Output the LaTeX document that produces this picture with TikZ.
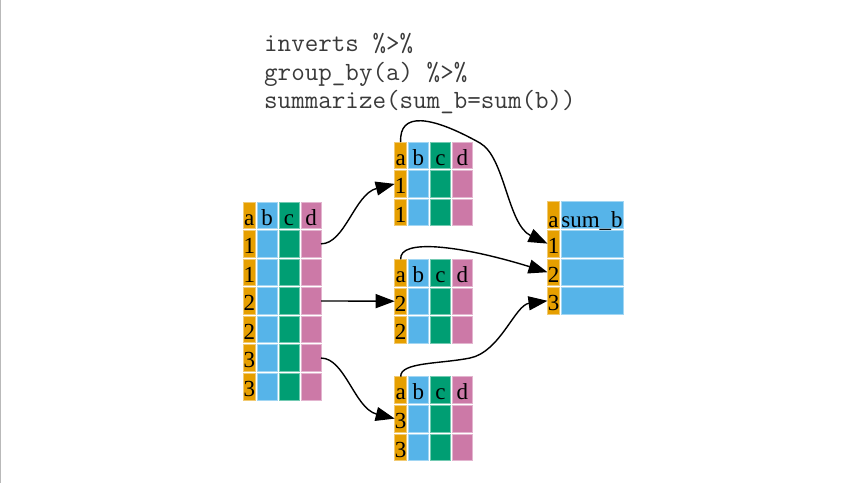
\documentclass[tikz,border=0pt]{standalone}
\usepackage{fontspec}
\setmainfont{Liberation Serif}
\usetikzlibrary{arrows.meta}
\definecolor{cA}{HTML}{E69F00}
\definecolor{cB}{HTML}{56B4E9}
\definecolor{cC}{HTML}{009E73}
\definecolor{cD}{HTML}{CC79A7}
\definecolor{codegray}{HTML}{3A3A3A}
\tikzset{
  cellbox/.style={rectangle, inner sep=0pt, outer sep=0pt, minimum height=26.6pt, line width=0.8pt},
  celltxt/.style={anchor=base, inner sep=0pt, font=\fontsize{23}{25}\selectfont, text=black},
  codetxt/.style={anchor=base west, inner sep=0pt, font=\ttfamily\fontsize{26.3}{29}\selectfont, text=codegray},
  conn/.style={line width=1.4pt, -{Triangle[length=19pt,width=14pt]}}
}
\newcommand\tcell[7][3.5]{%
  \node[cellbox, fill=#6, draw=#6!55!white, minimum width=#5pt] (#2) at ({#3+#5/2},{#4+13.3}) {};
  \node[celltxt] at ([yshift=#1pt]#2.south) {#7};
}
\begin{document}
\begin{tikzpicture}[x=1pt,y=-1pt]
\useasboundingbox (0,0) rectangle (862,483);
\draw[gray!55, line width=1pt] (0.5,0) -- (0.5,483);
% code
\node[codetxt] (code1) at (264,51.7) {inverts \%>\%};
\node[codetxt] (code2) at (264,80) {group\_by(a) \%>\%};
\node[codetxt] (code3) at (264,108.3) {summarize(sum\_b=sum(b))};
% left table
\foreach \r/\va/\vb/\vc/\vd in {0/a/b/c/d,1/1///,2/1///,3/2///,4/2///,5/3///,6/3///}{
  \pgfmathsetmacro\yy{202+\r*28.55}
  \tcell{L\r-a}{243.3}{\yy}{12}{cA}{\va}
  \tcell{L\r-b}{257}{\yy}{20}{cB}{\vb}
  \tcell{L\r-c}{279}{\yy}{20}{cC}{\vc}
  \tcell{L\r-d}{301}{\yy}{20}{cD}{\vd}
}
% group tables
\foreach \p/\yo/\g in {T/142/1,M/259.3/2,B/376.7/3}{
  \foreach \r/\va/\vb/\vc/\vd in {0/a/b/c/d,1/\g///,2/\g///}{
    \pgfmathsetmacro\yy{\yo+\r*28.6}
    \tcell{\p\r-a}{394.7}{\yy}{12}{cA}{\va}
    \tcell{\p\r-b}{408.4}{\yy}{20}{cB}{\vb}
    \tcell{\p\r-c}{430.4}{\yy}{20}{cC}{\vc}
    \tcell{\p\r-d}{452.4}{\yy}{20}{cD}{\vd}
  }
}
% result table
\tcell[1]{R0-a}{547.5}{201.7}{12}{cA}{a}
\tcell[1]{R0-s}{561}{201.7}{62}{cB}{sum\_b}
\foreach \r in {1,2,3}{
  \pgfmathsetmacro\yy{201.7+\r*28.6}
  \tcell{R\r-a}{547.5}{\yy}{12}{cA}{\r}
  \tcell{R\r-s}{561}{\yy}{62}{cB}{}
}
% connectors
\coordinate (k1) at (480,143);
\coordinate (k2) at (470,358);
\draw[conn] (L1-d.east) .. controls +(24,0) and +(-40,10) .. (T1-a.west);
\draw[conn] (L3-d.east) -- (M1-a.west);
\draw[conn] (L5-d.east) .. controls +(24,0) and +(-40,-10) .. (B1-a.west);
\draw[conn] (T0-a.north) .. controls +(-1.7,-30) and +(-50,-28) .. (k1) .. controls +(25,14) and +(-40,-19) .. (R1-a.west);
\draw[conn] (M0-a.north) .. controls +(-1.7,-21) and +(-87.5,-27) .. (R2-a.west);
\draw[conn] (B0-a.north) .. controls +(-0.7,-14.7) and +(-30,6) .. (k2) .. controls +(30,-6) and +(-32.5,4.3) .. (R3-a.west);
\end{tikzpicture}
\end{document}
